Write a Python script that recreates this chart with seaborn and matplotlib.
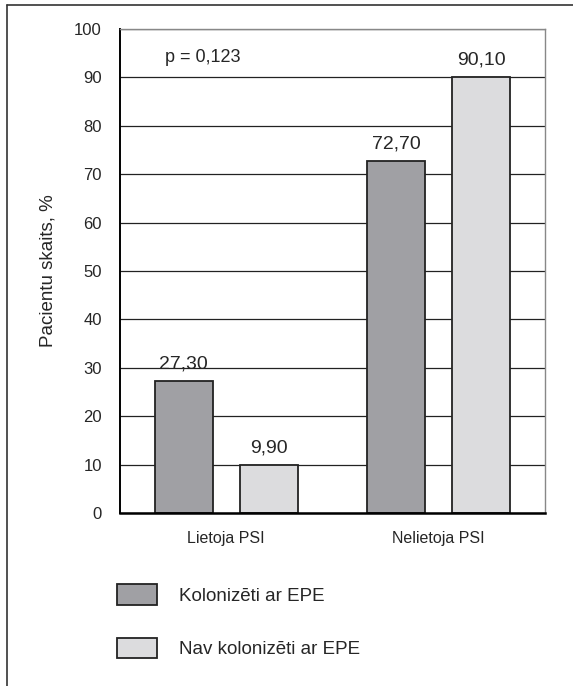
import matplotlib
matplotlib.use("Agg")
import matplotlib.pyplot as plt
import matplotlib.lines as mlines
from matplotlib.ticker import FixedLocator
import seaborn as sns
import pandas as pd

# data
groups = ["Lietoja PSI", "Nelietoja PSI"]
statuses = ["Kolonizēti ar EPE", "Nav kolonizēti ar EPE"]
colonized = [27.3, 72.7]
not_colonized = [9.9, 90.1]
p_text = "p = 0,123"
y_label = "Pacientu skaits, %"

df = pd.DataFrame({
    "group": groups * 2,
    "status": [statuses[0]] * 2 + [statuses[1]] * 2,
    "value": colonized + not_colonized,
})

sns.set_style("white")
plt.rcParams["font.family"] = ["Liberation Sans", "DejaVu Sans"]

fig = plt.figure(figsize=(5.73, 6.86), dpi=100)
ax = fig.add_axes([0.2094, 0.2522, 0.7416, 0.7055])

sns.barplot(data=df, x="group", y="value", hue="status",
            palette=["#a0a0a4", "#dcdcde"], width=0.8, gap=0.32,
            edgecolor="#222222", linewidth=1.3, ax=ax)

# value labels with comma decimals
for cont in ax.containers:
    labels = [f"{b.get_height():.2f}".replace(".", ",") for b in cont]
    ax.bar_label(cont, labels=labels, padding=6, fontsize=14)

ax.set_xlim(-0.5, 1.5)
ax.set_ylim(0, 100)
ax.set_yticks(range(0, 101, 10))
ax.grid(axis="y", color="#222222", linewidth=0.9)
ax.set_axisbelow(True)
ax.tick_params(axis="y", length=0, pad=13, labelsize=12)
ax.tick_params(axis="x", which="major", length=0, pad=13, labelsize=11.5)
ax.xaxis.set_minor_locator(FixedLocator([0.5]))
ax.tick_params(axis="x", which="minor", direction="in", length=8, width=0.9, color="#333333")
ax.set_xlabel("")
ax.set_ylabel(y_label, fontsize=13.5, labelpad=13)

for side in ["left", "bottom"]:
    ax.spines[side].set_color("black")
ax.spines["left"].set_linewidth(1.4)
ax.spines["bottom"].set_linewidth(1.8)
for side in ["top", "right"]:
    ax.spines[side].set_color("#888888")
    ax.spines[side].set_linewidth(1.0)

ax.text(-0.288, 94.2, p_text, ha="left", va="center", fontsize=13)

# legend below the plot
handles, labels = ax.get_legend_handles_labels()
ax.get_legend().remove()
fig.legend(handles, labels, loc="upper left",
           bbox_to_anchor=(108 / 573, 1 - 575 / 686), frameon=False,
           fontsize=13.5, handlelength=2.1, handleheight=1.3,
           labelspacing=1.75, handletextpad=1.2, borderpad=0)

# frame lines at top and left of figure
fig.add_artist(mlines.Line2D([7 / 573, 1], [1 - 5 / 686, 1 - 5 / 686],
                             color="#333333", linewidth=1.2))
fig.add_artist(mlines.Line2D([7 / 573, 7 / 573], [0, 1 - 5 / 686],
                             color="#333333", linewidth=1.2))

fig.savefig("out.png", dpi=100)
